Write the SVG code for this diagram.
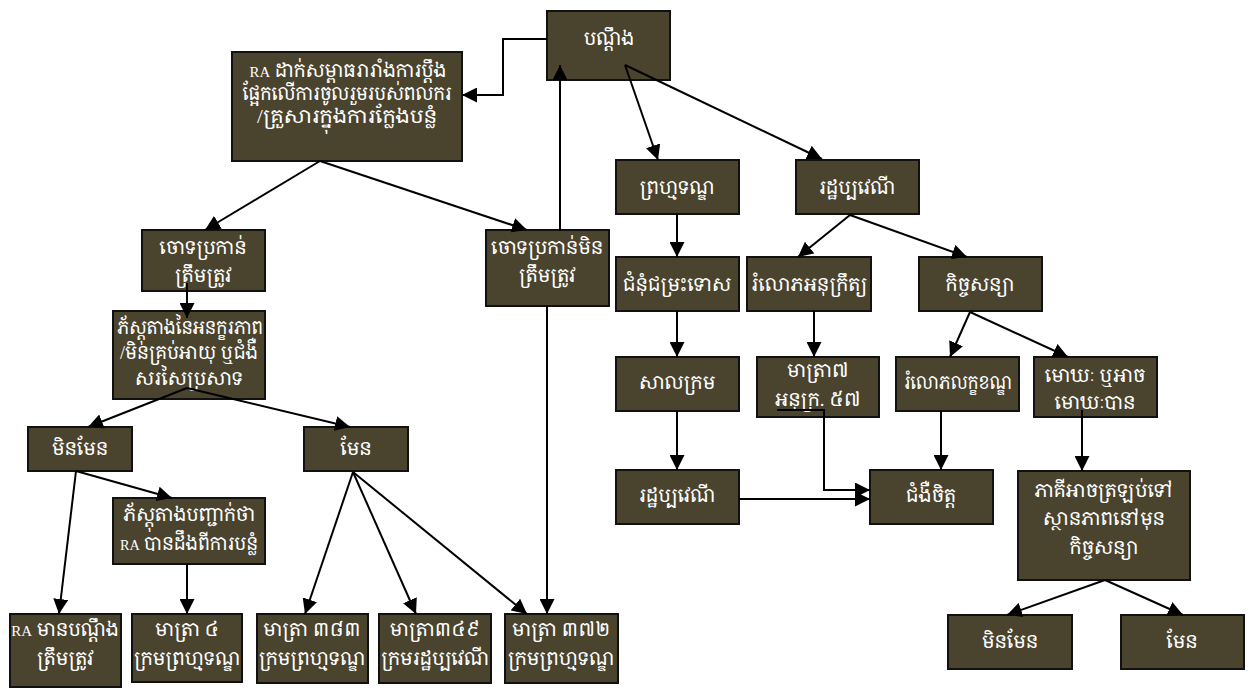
<svg xmlns="http://www.w3.org/2000/svg" width="1249" height="688" viewBox="0 0 1249 688">
<style>
.box{fill:#4a432d;stroke:#111;stroke-width:2}
.t{fill:#fff;font-family:"Liberation Serif","Noto Serif Khmer","Noto Sans Khmer","Khmer OS",serif;font-size:19px;text-anchor:middle}
.ra{font-size:15px}
.c{fill:none;stroke:#000;stroke-width:2;marker-end:url(#ah)}
</style>
<defs>
<marker id="ah" markerUnits="userSpaceOnUse" markerWidth="15" markerHeight="15" refX="15" refY="7.5" orient="auto">
<path d="M0,0 L15,7.5 L0,15 z" fill="#000"/>
</marker>
</defs>
<rect width="1249" height="688" fill="#fff"/>
<g id="n1"><rect class="box" x="547" y="11" width="123" height="69"/><text class="t" x="609" y="45">បណ្តឹង</text></g>
<g id="n2"><rect class="box" x="232" y="52" width="230" height="109"/><text class="t" x="348" y="77" textLength="197" lengthAdjust="spacingAndGlyphs"><tspan class="ra">RA</tspan> ដាក់សម្ពាធរារាំងការប្តឹង</text><text class="t" x="347" y="100" textLength="209" lengthAdjust="spacingAndGlyphs">ផ្អែកលើការចូលរួមរបស់ពលករ</text><text class="t" x="347" y="123" textLength="180" lengthAdjust="spacingAndGlyphs">/គ្រួសារក្នុងការក្លែងបន្លំ</text></g>
<g id="n3"><rect class="box" x="142" y="230" width="123" height="61"/><text class="t" x="203" y="254">ចោទប្រកាន់</text><text class="t" x="203" y="282">ត្រឹមត្រូវ</text></g>
<g id="n4"><rect class="box" x="486" y="230" width="123" height="76"/><text class="t" x="547" y="254">ចោទប្រកាន់មិន</text><text class="t" x="547" y="282">ត្រឹមត្រូវ</text></g>
<g id="n5"><rect class="box" x="113" y="311" width="152" height="88"/><text class="t" x="190" y="334" textLength="146" lengthAdjust="spacingAndGlyphs">ភ័ស្តុតាងនៃអនក្ខរភាព</text><text class="t" x="189" y="359" textLength="138" lengthAdjust="spacingAndGlyphs">/មិនគ្រប់អាយុ ឬជំងឺ</text><text class="t" x="189" y="385">សរសៃប្រសាទ</text></g>
<g id="n6"><rect class="box" x="28" y="427" width="104" height="44"/><text class="t" x="80" y="455">មិនមែន</text></g>
<g id="n7"><rect class="box" x="304" y="427" width="104" height="44"/><text class="t" x="356" y="455">មែន</text></g>
<g id="n8"><rect class="box" x="113" y="498" width="152" height="66"/><text class="t" x="189" y="521" textLength="132" lengthAdjust="spacingAndGlyphs">ភ័ស្តុតាងបញ្ជាក់ថា</text><text class="t" x="189" y="550" textLength="138" lengthAdjust="spacingAndGlyphs"><tspan class="ra">RA</tspan> បានដឹងពីការបន្លំ</text></g>
<g id="n9"><rect class="box" x="10" y="614" width="111" height="73"/><text class="t" x="65" y="636"><tspan class="ra">RA</tspan> មានបណ្តឹង</text><text class="t" x="65" y="665">ត្រឹមត្រូវ</text></g>
<g id="n10"><rect class="box" x="132" y="614" width="110" height="68"/><text class="t" x="187" y="636">មាត្រា ៤</text><text class="t" x="187" y="665">ក្រមព្រហ្មទណ្ឌ</text></g>
<g id="n11"><rect class="box" x="257" y="614" width="111" height="69"/><text class="t" x="312" y="636">មាត្រា ៣៨៣</text><text class="t" x="312" y="665">ក្រមព្រហ្មទណ្ឌ</text></g>
<g id="n12"><rect class="box" x="379" y="614" width="112" height="69"/><text class="t" x="435" y="636">មាត្រា៣៤៩</text><text class="t" x="435" y="665">ក្រមរដ្ឋប្បវេណី</text></g>
<g id="n13"><rect class="box" x="505" y="614" width="113" height="69"/><text class="t" x="561" y="636">មាត្រា ៣៧២</text><text class="t" x="561" y="665">ក្រមព្រហ្មទណ្ឌ</text></g>
<g id="n14"><rect class="box" x="616" y="160" width="123" height="54"/><text class="t" x="677" y="194">ព្រហ្មទណ្ឌ</text></g>
<g id="n15"><rect class="box" x="796" y="160" width="123" height="54"/><text class="t" x="857" y="194">រដ្ឋប្បវេណី</text></g>
<g id="n16"><rect class="box" x="616" y="257" width="123" height="54"/><text class="t" x="677" y="291">ជំនុំជម្រះទោស</text></g>
<g id="n17"><rect class="box" x="747" y="257" width="124" height="54"/><text class="t" x="809" y="291">រំលោភអនុក្រឹត្យ</text></g>
<g id="n18"><rect class="box" x="919" y="257" width="123" height="54"/><text class="t" x="980" y="291">កិច្ចសន្យា</text></g>
<g id="n19"><rect class="box" x="616" y="357" width="123" height="54"/><text class="t" x="677" y="389">សាលក្រម</text></g>
<g id="n20"><rect class="box" x="757" y="357" width="122" height="60"/><text class="t" x="818" y="377">មាត្រា៧</text><text class="t" x="818" y="406">អនុក្រ. ៥៧</text></g>
<g id="n21"><rect class="box" x="896" y="357" width="123" height="54"/><text class="t" x="958" y="389" textLength="108" lengthAdjust="spacingAndGlyphs">រំលោភលក្ខខណ្ឌ</text></g>
<g id="n22"><rect class="box" x="1034" y="357" width="123" height="60"/><text class="t" x="1095" y="382">មោឃៈ ឬអាច</text><text class="t" x="1095" y="409">មោឃៈបាន</text></g>
<g id="n23"><rect class="box" x="616" y="470" width="123" height="54"/><text class="t" x="677" y="502">រដ្ឋប្បវេណី</text></g>
<g id="n24"><rect class="box" x="870" y="470" width="123" height="54"/><text class="t" x="931" y="502">ជំងឺចិត្ត</text></g>
<g id="n25"><rect class="box" x="1018" y="471" width="172" height="109"/><text class="t" x="1104" y="497">ភាគីអាចត្រឡប់ទៅ</text><text class="t" x="1104" y="525">ស្ថានភាពនៅមុន</text><text class="t" x="1104" y="554">កិច្ចសន្យា</text></g>
<g id="n26"><rect class="box" x="948" y="615" width="124" height="54"/><text class="t" x="1010" y="648">មិនមែន</text></g>
<g id="n27"><rect class="box" x="1121" y="615" width="123" height="54"/><text class="t" x="1182" y="648">មែន</text></g>
<g id="connectors">
<path class="c" d="M547,39 H503 V95 H462"/>
<path class="c" d="M560,230 V65"/>
<path class="c" d="M625,65 L658,160"/>
<path class="c" d="M625,65 L822,159"/>
<path class="c" d="M320,161 L205,230"/>
<path class="c" d="M320,161 L527,230"/>
<path class="c" d="M187,283 V318"/>
<path class="c" d="M187,388 L88,427"/>
<path class="c" d="M187,388 L350,427"/>
<path class="c" d="M76,471 L59,614"/>
<path class="c" d="M76,471 L172,498"/>
<path class="c" d="M187,564 V614"/>
<path class="c" d="M353,472 L305,614"/>
<path class="c" d="M353,472 L416,614"/>
<path class="c" d="M353,472 L527,614"/>
<path class="c" d="M547,306 V614"/>
<path class="c" d="M677,214 V257"/>
<path class="c" d="M850,215 L798,257"/>
<path class="c" d="M850,215 L967,257"/>
<path class="c" d="M677,311 V357"/>
<path class="c" d="M814,311 V357"/>
<path class="c" d="M970,312 L950,357"/>
<path class="c" d="M970,312 L1068,357"/>
<path class="c" d="M677,411 V470"/>
<path class="c" d="M777,410 H824 V490 H870"/>
<path class="c" d="M739,499 H870"/>
<path class="c" d="M941,411 V470"/>
<path class="c" d="M1082,410 V471"/>
<path class="c" d="M1105,580 L1007,615"/>
<path class="c" d="M1105,580 L1183,615"/>
</g>
</svg>
